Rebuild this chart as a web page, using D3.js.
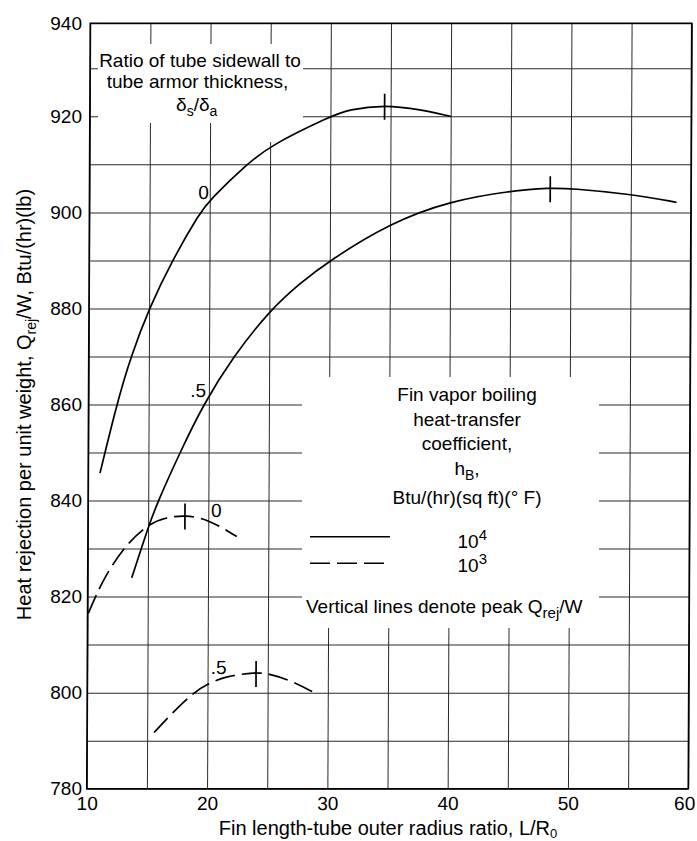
<!DOCTYPE html>
<html><head><meta charset="utf-8">
<script src="https://cdn.jsdelivr.net/npm/d3@7"></script>
<style>
body{margin:0;background:#fff}
svg text{font-family:"Liberation Sans",Arial,Helvetica,sans-serif;fill:#000}
</style></head><body>
<svg id="chart" width="697" height="841"></svg>
<script>
// ---------- data ----------
const xGrid = [10,15,20,25,30,35,40,45,50,55,60];
const yGrid = [780,790,800,810,820,830,840,850,860,870,880,890,900,910,920,930,940];
const xTickLabels = [10,20,30,40,50,60];
const yTickLabels = [780,800,820,840,860,880,900,920,940];

// h_B = 10^4 (solid), ratio 0 and .5
const solid0  = [[10.98,845.7],[12.34,860],[13.5,870],[15.0,880],[16.9,890],[19.2,900],[20,902.6],[23.06,910],[25,913.9],[30,920],[31.5,921.4],[34.5,922.4],[37.5,921.4],[40,920]];
const solid05 = [[13.66,823.9],[15.16,835.6],[15.84,840],[17.62,850],[19.54,860],[22.02,870],[25,879.5],[27.5,885.2],[30,890],[35,897.8],[40,902.4],[45,904.5],[48.3,905.1],[50,905],[55,903.8],[58.8,902.1]];
// h_B = 10^3 (dashed), ratio 0 and .5
const dashed0  = [[10.06,816.5],[11.29,823.8],[13.23,831.1],[15.16,835.3],[16.4,836.4],[18.06,837.0],[20,836.1],[22.37,832.5]];
const dashed05 = [[15.57,791.7],[17.17,796.0],[18.82,800],[20,801.8],[21.6,803.5],[24.03,804.2],[25,804.0],[26.86,802.6],[28.8,800.1]];

const peakX = [34.5, 48.3, 18.06, 24.03];
const peakY = [922.2, 905.0, 836.9, 804.1];

const curveLabelText = ["0", ".5", "0", ".5"];
const curveLabelX = [19.48, 19.12, 20.67, 20.92];
const curveLabelY = [902.8, 861.6, 836.6, 803.8];

// ---------- layout ----------
const svg = d3.select("#chart");
const FS = 19;
const x = d3.scaleLinear().domain([10,60]).range([88.5,690]);
const y = d3.scaleLinear().domain([780,930,940]).range([788.7,68.3,23.3]);
const skewDeg = -0.262;
const midY = 406;
const skewShift = -Math.tan(skewDeg*Math.PI/180)*midY;
const skewT = `translate(${skewShift},0) skewX(${skewDeg})`;

const g = svg.append("g").attr("transform",skewT);

// grid lines
const gridV = g.append("g").attr("transform",`translate(0,${y(780)})`)
  .call(d3.axisBottom(x).tickValues(xGrid).tickSize(-(y(780)-y(940))).tickFormat(""));
const gridH = g.append("g").attr("transform",`translate(${x(10)},0)`)
  .call(d3.axisLeft(y).tickValues(yGrid).tickSize(-(x(60)-x(10))).tickFormat(""));
[gridV,gridH].forEach(a=>{a.select(".domain").remove();a.selectAll("line").attr("stroke","#2a2a2a").attr("stroke-width",1);});

// white areas behind annotation text (gridlines interrupted)
const masks = [
  {x:98,y:44,w:205,h:79},
  {x:262,y:118,w:10,h:24},
  {x:302,y:377,w:297,h:251}
];
svg.selectAll("rect.mask").data(masks).enter().append("rect")
  .attr("x",d=>d.x).attr("y",d=>d.y).attr("width",d=>d.w).attr("height",d=>d.h).attr("fill","#fff");

const g2 = svg.append("g").attr("transform",skewT);

// border
g2.append("rect").attr("x",x(10)).attr("y",y(940)).attr("width",x(60)-x(10)).attr("height",y(780)-y(940))
  .attr("fill","none").attr("stroke","#000").attr("stroke-width",1.6);

// curves
const line = d3.line().x(d=>x(d[0])).y(d=>y(d[1])).curve(d3.curveBasis);
const series = [
  {data:solid0, dash:null},
  {data:solid05, dash:null},
  {data:dashed0, dash:"20,7"},
  {data:dashed05, dash:"20,7"}
];
g2.selectAll("path.curve").data(series).enter().append("path")
  .attr("d",d=>line(d.data)).attr("fill","none").attr("stroke","#000")
  .attr("stroke-width",1.7).attr("stroke-dasharray",d=>d.dash);

// peak markers
g2.selectAll("line.peak").data(peakX).enter().append("line")
  .attr("x1",(d)=>x(d)).attr("x2",(d)=>x(d))
  .attr("y1",(d,i)=>y(peakY[i])-12).attr("y2",(d,i)=>y(peakY[i])+14)
  .attr("stroke","#000").attr("stroke-width",1.7);

// curve labels
g2.selectAll("text.clabel").data(curveLabelText).enter().append("text")
  .attr("x",(d,i)=>x(curveLabelX[i])).attr("y",(d,i)=>y(curveLabelY[i]))
  .attr("text-anchor","middle").attr("font-size",FS).text(d=>d);

// x tick labels
const xa = g2.append("g").attr("transform",`translate(0,${y(780)})`)
  .call(d3.axisBottom(x).tickValues(xTickLabels).tickSize(0).tickPadding(8).tickFormat(d3.format("d")));
xa.select(".domain").remove();
xa.selectAll("text").attr("font-size",FS).attr("font-family",null)
  .attr("dx",d=>d===60?-4:0);

// y tick labels (unskewed)
const ya = svg.append("g").attr("transform",`translate(88.5,0)`)
  .call(d3.axisLeft(y).tickValues(yTickLabels).tickSize(0).tickPadding(6.5).tickFormat(d3.format("d")));
ya.select(".domain").remove();
ya.selectAll("text").attr("font-size",FS).attr("font-family",null);

// axis titles
const xt = svg.append("text").attr("x",388).attr("y",835).attr("text-anchor","middle").attr("font-size",20);
xt.append("tspan").text("Fin length-tube outer radius ratio,  L/R");
xt.append("tspan").attr("dy",3).attr("font-size",13).text("0");

const yt = svg.append("text").attr("transform","translate(31,404.5) rotate(-90)").attr("text-anchor","middle").attr("font-size",20);
yt.append("tspan").text("Heat rejection per unit weight,  Q");
yt.append("tspan").attr("dy",5).attr("font-size",14).text("rej");
yt.append("tspan").attr("dy",-5).text("/W,  Btu/(hr)(lb)");

// top-left annotation
const tl = [
  {t:"Ratio of tube sidewall to", x:200, y:66.7},
  {t:"tube armor thickness,", x:197.5, y:88.3}
];
svg.selectAll("text.tl").data(tl).enter().append("text").attr("x",d=>d.x).attr("y",d=>d.y)
  .attr("text-anchor","middle").attr("font-size",FS).text(d=>d.t);
const ds = svg.append("text").attr("x",196.7).attr("y",110.7).attr("text-anchor","middle").attr("font-size",FS);
ds.append("tspan").text("δ");
ds.append("tspan").attr("dy",5).attr("font-size",14).text("s");
ds.append("tspan").attr("dy",-5).text("/δ");
ds.append("tspan").attr("dy",5).attr("font-size",14).text("a");

// legend
const legCx = 467;
const legLines = [
  {t:"Fin vapor boiling", y:400.7},
  {t:"heat-transfer", y:426},
  {t:"coefficient,", y:449.5},
  {t:"Btu/(hr)(sq ft)(° F)", y:503.5}
];
svg.selectAll("text.leg").data(legLines).enter().append("text").attr("x",legCx).attr("y",d=>d.y)
  .attr("text-anchor","middle").attr("font-size",FS).text(d=>d.t);
const hb = svg.append("text").attr("x",legCx).attr("y",475).attr("text-anchor","middle").attr("font-size",FS);
hb.append("tspan").text("h");
hb.append("tspan").attr("dy",5).attr("font-size",14).text("B");
hb.append("tspan").attr("dy",-5).text(",");

const legendItems = [{label:"4", dash:null, y:536.7, ty:548},{label:"3", dash:"20,7", y:563.3, ty:572}];
const li = svg.selectAll("g.li").data(legendItems).enter().append("g");
li.append("line").attr("x1",310).attr("x2",390).attr("y1",d=>d.y).attr("y2",d=>d.y)
  .attr("stroke","#000").attr("stroke-width",1.5).attr("stroke-dasharray",d=>d.dash);
const lt = li.append("text").attr("x",457.5).attr("y",d=>d.ty).attr("font-size",FS);
lt.append("tspan").text("10");
lt.append("tspan").attr("dy",-8).attr("font-size",15).text(d=>d.label);

const vt = svg.append("text").attr("x",306).attr("y",613.3).attr("font-size",FS);
vt.append("tspan").text("Vertical lines denote peak  Q");
vt.append("tspan").attr("dy",5).attr("font-size",15).text("rej");
vt.append("tspan").attr("dy",-5).text("/W");
</script>
</body></html>
